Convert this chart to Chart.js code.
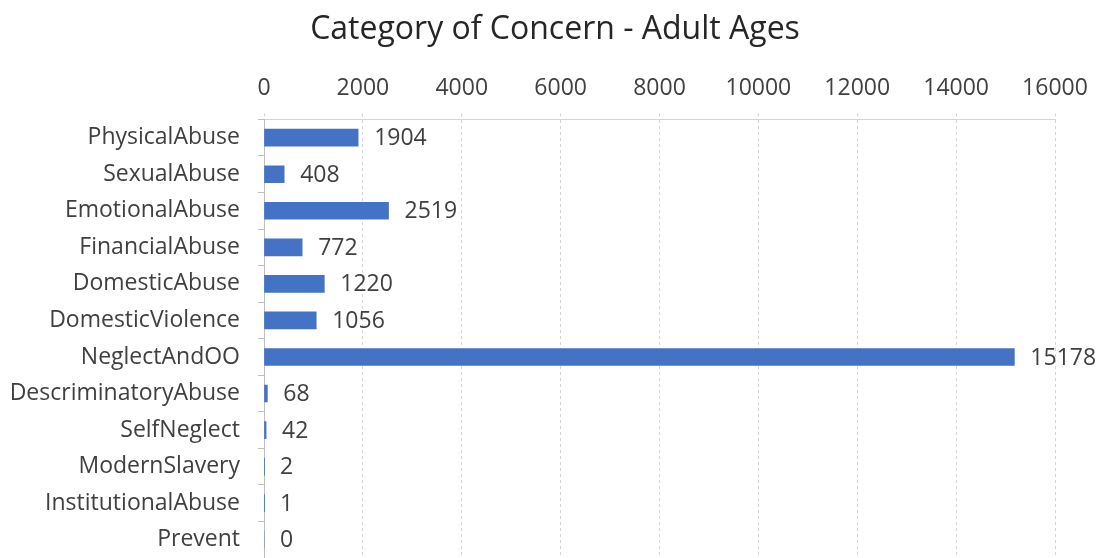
<!DOCTYPE html>
<html>
<head>
<meta charset="utf-8">
<script src="https://cdn.jsdelivr.net/npm/chart.js@4"></script>
<style>
  html, body { margin: 0; padding: 0; background: #fff; }
  #wrap { width: 1099px; height: 558px; }
</style>
</head>
<body>
<div id="wrap"><canvas id="concernChart"></canvas></div>
<script>
const categories = ['PhysicalAbuse', 'SexualAbuse', 'EmotionalAbuse', 'FinancialAbuse',
  'DomesticAbuse', 'DomesticViolence', 'NeglectAndOO', 'DescriminatoryAbuse',
  'SelfNeglect', 'ModernSlavery', 'InstitutionalAbuse', 'Prevent'];
const counts = [1904, 408, 2519, 772, 1220, 1056, 15178, 68, 42, 2, 1, 0];
const xTicks = [0, 2000, 4000, 6000, 8000, 10000, 12000, 14000, 16000];

const fontFamily = "'Open Sans', 'Noto Sans', sans-serif";
const textColor = '#404040';

// writes the count just past the end of each bar
const barValues = {
  id: 'barValues',
  afterDatasetsDraw(chart) {
    const ctx = chart.ctx;
    const meta = chart.getDatasetMeta(0);
    ctx.save();
    ctx.font = '23px ' + fontFamily;
    ctx.fillStyle = textColor;
    ctx.textAlign = 'left';
    ctx.textBaseline = 'middle';
    meta.data.forEach((bar, i) => {
      ctx.fillText(String(counts[i]), bar.x + 16, bar.y + 1);
    });
    ctx.restore();
  }
};

new Chart(document.getElementById('concernChart'), {
  type: 'bar',
  data: {
    labels: categories,
    datasets: [{
      data: counts,
      backgroundColor: '#4472C4',
      borderWidth: 0,
      barThickness: 17
    }]
  },
  options: {
    indexAxis: 'y',
    responsive: true,
    maintainAspectRatio: false,
    animation: false,
    layout: { padding: { left: 11, right: 0, top: 0, bottom: 0 } },
    plugins: {
      legend: { display: false },
      tooltip: { enabled: false },
      title: {
        display: true,
        text: 'Category of Concern - Adult Ages',
        color: '#262626',
        font: { family: fontFamily, size: 32, weight: 'normal' },
        padding: { top: 11, bottom: 4 }
      }
    },
    scales: {
      x: {
        position: 'top',
        min: 0,
        max: 16000,
        afterBuildTicks(scale) {
          scale.ticks = xTicks.map(v => ({ value: v }));
        },
        afterFit(scale) {
          scale.height = 66;
          scale.paddingLeft = 0;
          scale.paddingRight = 44;
        },
        ticks: {
          color: textColor,
          padding: 11,
          font: { family: fontFamily, size: 23 },
          callback: v => String(v)
        },
        grid: {
          color: '#d4d4d4',
          tickLength: 6,
          tickBorderDash: [3, 3]
        },
        border: { color: '#d4d4d4', dash: [3, 3] }
      },
      y: {
        afterFit(scale) {
          scale.width = 253;
          scale.paddingTop = 0;
          scale.paddingBottom = 0;
        },
        ticks: {
          color: textColor,
          padding: 18,
          font: { family: fontFamily, size: 23 }
        },
        grid: {
          drawOnChartArea: false,
          color: '#bfbfbf',
          tickLength: 6
        },
        border: { color: '#bfbfbf' }
      }
    }
  },
  plugins: [barValues]
});
</script>
</body>
</html>
